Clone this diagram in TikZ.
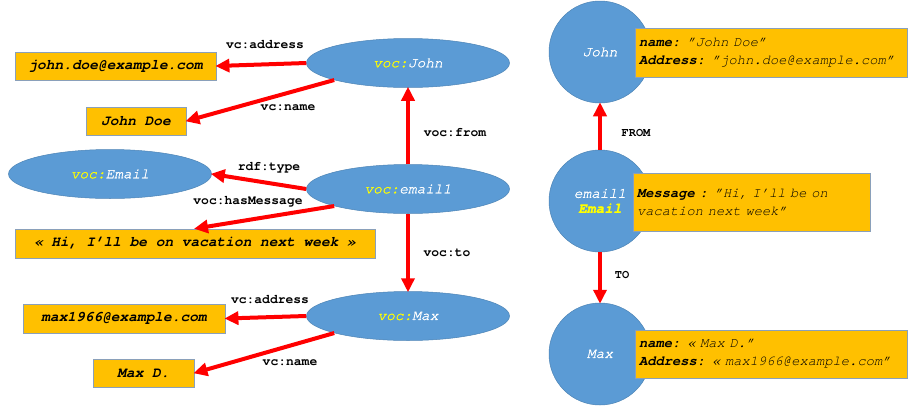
\documentclass[tikz,border=0pt]{standalone}
\usepackage{fontspec}
\setmainfont{texgyrecursor}[Extension=.otf, UprightFont=*-regular, BoldFont=*-bold,
    ItalicFont=*-italic, BoldItalicFont=*-bolditalic]
\usetikzlibrary{arrows.meta,shapes.geometric}

\newcommand{\vocpre}{{\color{c5}voc:}}

\begin{document}
\begin{tikzpicture}[x=1pt,y=-1pt,
    res/.style={ellipse, fill=c1, draw=c1!85!black, line width=0.5pt, inner sep=0pt,
        minimum width=203pt, minimum height=49pt, text=white,
        font=\fontsize{14.5}{16}\selectfont\itshape\addfontfeature{FakeBold=1.2}},
    ball/.style={circle, fill=c1, draw=c1!85!black, line width=0.5pt, inner sep=0pt,
        minimum size=102pt, text=white, align=center,
        font=\fontsize{14.5}{17}\selectfont\itshape\addfontfeature{FakeBold=1.2}},
    lit/.style={rectangle, fill=c2, draw=c3, line width=0.8pt, inner sep=0pt,
        minimum height=28pt, font=\fontsize{14.5}{16}\selectfont\bfseries\itshape},
    card/.style={rectangle, fill=c2, draw=c3, line width=0.8pt, inner xsep=4pt,
        align=left, font=\fontsize{13.8}{18}\selectfont\itshape},
    rel/.style={font=\fontsize{13}{15}\selectfont\bfseries},
    arc/.style={-{Triangle[length=14pt,width=13pt]}, c4, line width=4pt, shorten >=-1pt},
    ]
    \definecolor{c1}{HTML}{5B9BD5}
    \definecolor{c2}{HTML}{FFC000}
    \definecolor{c3}{HTML}{8AA0BA}
    \definecolor{c4}{HTML}{FF0000}
    \definecolor{c5}{HTML}{FFFF00}

    \useasboundingbox (0,0) rectangle (910,405);

    %% left side: RDF graph
    \node[res] (john) at (408,63) {\vocpre John};
    \node[res] (email1) at (408,189) {\vocpre email1};
    \node[res] (max) at (408,316) {\vocpre Max};
    \node[res] (emailtype) at (110,174) {\vocpre Email};

    \node[lit, minimum width=201pt] (johnaddr) at (115.5,66) {john.doe@example.com};
    \node[lit, minimum width=100pt] (johnname) at (136,121) {John Doe};
    \node[lit, minimum width=360pt, minimum height=29pt] (msg) at (195,243.5) {« Hi, I’ll be on vacation next week »};
    \node[lit, minimum width=202pt, minimum height=29pt] (maxaddr) at (124,318.5) {max1966@example.com};
    \node[lit, minimum width=101pt] (maxname) at (143.5,373) {Max D.};

    \draw[arc] (john.west) -- (johnaddr.east);
    \draw[arc] (john.193) -- (johnname.east);
    \draw[arc] (email1.north) -- (john.south);
    \draw[arc] (email1.west) -- (emailtype.east);
    \draw[arc] (email1.193) -- (msg.north);
    \draw[arc] (email1.south) -- (max.north);
    \draw[arc] (max.west) -- (maxaddr.east);
    \draw[arc] (max.193) -- (maxname.east);

    \node[rel] (l1) at (265,45) {vc:address};
    \node[rel] (l2) at (288,108) {vc:name};
    \node[rel] (l3) at (455,133) {voc:from};
    \node[rel] (l4) at (269,168) {rdf:type};
    \node[rel] (l5) at (248,202) {voc:hasMessage};
    \node[rel] (l6) at (447,253) {voc:to};
    \node[rel] (l7) at (270,300) {vc:address};
    \node[rel] (l8) at (290,363) {vc:name};

    %% right side: property graph
    \node[ball] (pjohn) at (600,52) {John};
    \node[ball] (pemail) at (600,201) {email1\\[-2pt]{\color{c5}\bfseries Email}};
    \node[ball] (pmax) at (600,354) {Max};

    \draw[arc] (pemail.north) -- (pjohn.south);
    \draw[arc] (pemail.south) -- (pmax.north);
    \node[rel, font=\fontsize{12}{14}\selectfont\bfseries] (lfrom) at (636,133) {FROM};
    \node[rel, font=\fontsize{12}{14}\selectfont\bfseries] (lto) at (622,275) {TO};

    \node[card, text width=264pt, minimum height=49pt] (cjohn) at (771,52.5)
        {{\bfseries name:} "John Doe"\\{\bfseries Address:} "john.doe@example.com"};
    \node[card, text width=229pt, minimum height=58pt] (cmsg) at (751.5,202)
        {{\bfseries Message :} "Hi, I’ll be on\\vacation next week"};
    \node[card, text width=264pt, minimum height=48pt] (cmax) at (771,354)
        {{\bfseries name:} « Max D."\\{\bfseries Address:} « max1966@example.com"};

\end{tikzpicture}
\end{document}
